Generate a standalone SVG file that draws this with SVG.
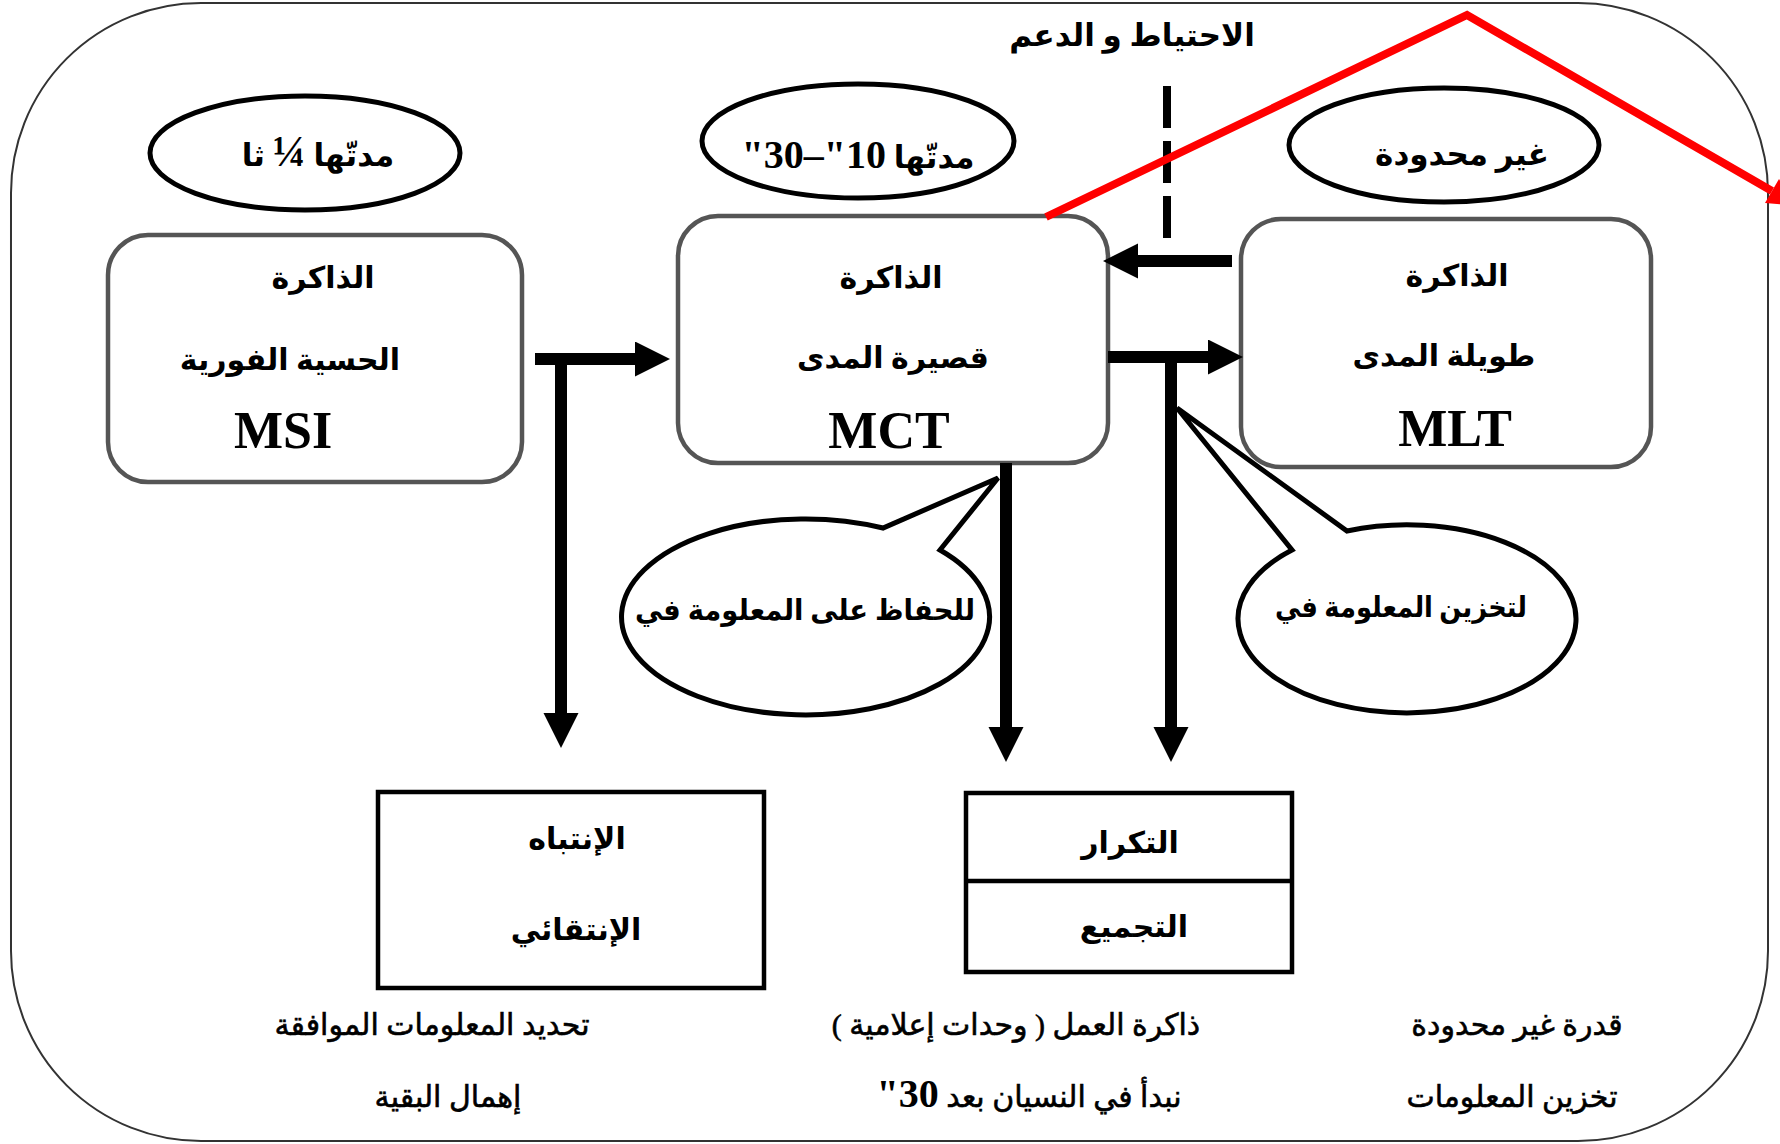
<svg xmlns="http://www.w3.org/2000/svg" width="1780" height="1144" viewBox="0 0 1780 1144">
  <style>
    .ar { font-family: "Liberation Serif", "DejaVu Sans", serif; fill: #000; text-anchor: middle; direction: rtl; }
    .b { font-weight: bold; }
    .lbl { font-size: 30px; }
    .big { font-size: 31px; }
    .note { font-size: 30px; stroke: #000; stroke-width: 0.6; }
    .latin { font-family: "Liberation Serif", serif; font-weight: bold; font-size: 52px; text-anchor: middle; fill: #000; }
    .mem { fill: #fff; stroke: #555; stroke-width: 4.5; }
    .oval { fill: #fff; stroke: #000; stroke-width: 5; }
    .box { fill: #fff; stroke: #000; stroke-width: 4.5; }
    .bubble { fill: #fff; stroke: #000; stroke-width: 5; stroke-linejoin: miter; }
    .flow { fill: none; stroke: #000; stroke-width: 12; marker-end: url(#head); }
  </style>
  <defs>
    <marker id="head" markerUnits="userSpaceOnUse" markerWidth="36" markerHeight="36" refX="0" refY="17.5" orient="auto">
      <path d="M0,0 L35,17.5 L0,35 Z" fill="#000"/>
    </marker>
  </defs>

  <rect width="1780" height="1144" fill="#fff"/>

  <!-- outer frame -->
  <rect x="11" y="3" width="1757" height="1138" rx="190" ry="190" fill="none" stroke="#333" stroke-width="2"/>

  <!-- header label and dashed divider -->
  <text class="ar b big" x="1132" y="46">الاحتياط و الدعم</text>
  <line x1="1167" y1="86" x2="1167" y2="240" stroke="#000" stroke-width="8" stroke-dasharray="42 13"/>

  <!-- duration ovals -->
  <g id="dur-msi">
    <ellipse class="oval" cx="305" cy="153" rx="155" ry="57"/>
    <text class="ar b big" x="318" y="166">مدتّها <tspan font-size="44">¼</tspan> ثا</text>
  </g>
  <g id="dur-mct">
    <ellipse class="oval" cx="858" cy="141" rx="156" ry="57"/>
    <text class="ar b big" x="858" y="168">مدتّها <tspan font-size="40">10"–30"</tspan></text>
  </g>
  <g id="dur-mlt">
    <ellipse class="oval" cx="1444" cy="145" rx="155" ry="57"/>
    <text class="ar b big" x="1462" y="165">غير محدودة</text>
  </g>

  <!-- memory stores -->
  <g id="msi">
    <rect class="mem" x="108" y="235" width="414" height="247" rx="40"/>
    <text class="ar b lbl" x="323" y="288">الذاكرة</text>
    <text class="ar b lbl" x="290" y="370">الحسية الفورية</text>
    <text class="latin" x="283" y="448">MSI</text>
  </g>
  <g id="mct">
    <rect class="mem" x="678" y="216" width="430" height="247" rx="40"/>
    <text class="ar b lbl" x="891" y="288">الذاكرة</text>
    <text class="ar b lbl" x="893" y="368">قصيرة المدى</text>
    <text class="latin" x="889" y="448">MCT</text>
  </g>
  <g id="mlt">
    <rect class="mem" x="1241" y="219" width="410" height="248" rx="40"/>
    <text class="ar b lbl" x="1457" y="286">الذاكرة</text>
    <text class="ar b lbl" x="1444" y="366">طويلة المدى</text>
    <text class="latin" x="1455" y="446">MLT</text>
  </g>

  <!-- speech bubbles -->
  <g id="keep">
    <path class="bubble" d="M940,550 A184,98 0 1 1 883,528 L998,478 Z"/>
    <text class="ar b" font-size="29" x="805" y="620" textLength="340" lengthAdjust="spacingAndGlyphs">للحفاظ على المعلومة في</text>
  </g>
  <g id="store">
    <path class="bubble" d="M1347,531 A169,94 0 1 1 1292,550 L1177,408 Z"/>
    <text class="ar b" font-size="29" x="1401" y="617" textLength="252" lengthAdjust="spacingAndGlyphs">لتخزين المعلومة في</text>
  </g>

  <!-- process boxes -->
  <g id="attention">
    <rect class="box" x="378" y="792" width="386" height="196"/>
    <text class="ar b lbl" x="577" y="849">الإنتباه</text>
    <text class="ar b lbl" x="576" y="940">الإنتقائي</text>
  </g>
  <g id="rehearsal">
    <rect class="box" x="966" y="793" width="326" height="179"/>
    <line x1="966" y1="881" x2="1292" y2="881" stroke="#000" stroke-width="4.5"/>
    <text class="ar b lbl" x="1130" y="853">التكرار</text>
    <text class="ar b lbl" x="1134" y="937">التجميع</text>
  </g>

  <!-- notes under the boxes -->
  <g id="notes">
    <text class="ar note" x="432" y="1035">تحديد المعلومات الموافقة</text>
    <text class="ar note" x="448" y="1107">إهمال البقية</text>
    <text class="ar note" x="1016" y="1035">ذاكرة العمل ( وحدات إعلامية )</text>
    <text class="ar note" x="1029" y="1107">نبدأ في النسيان بعد <tspan class="b" font-size="40" stroke="none">30"</tspan></text>
    <text class="ar note" x="1517" y="1035">قدرة غير محدودة</text>
    <text class="ar note" x="1512" y="1107">تخزين المعلومات</text>
  </g>

  <!-- connectors -->
  <g id="connectors">
    <path class="flow" d="M535,359 H635"/>
    <path class="flow" d="M561,359 V713"/>
    <path class="flow" d="M1232,261 H1138"/>
    <path class="flow" d="M1108,357 H1208"/>
    <path class="flow" d="M1171,357 V727"/>
    <path class="flow" d="M1006,463 V727"/>
  </g>

  <!-- red roof line -->
  <g id="roof">
    <polyline points="1046,217 1467,15 1772,191" fill="none" stroke="#f00" stroke-width="8" stroke-linejoin="miter"/>
    <polygon points="1765,203 1779,179 1798,206" fill="#f00"/>
  </g>
</svg>
